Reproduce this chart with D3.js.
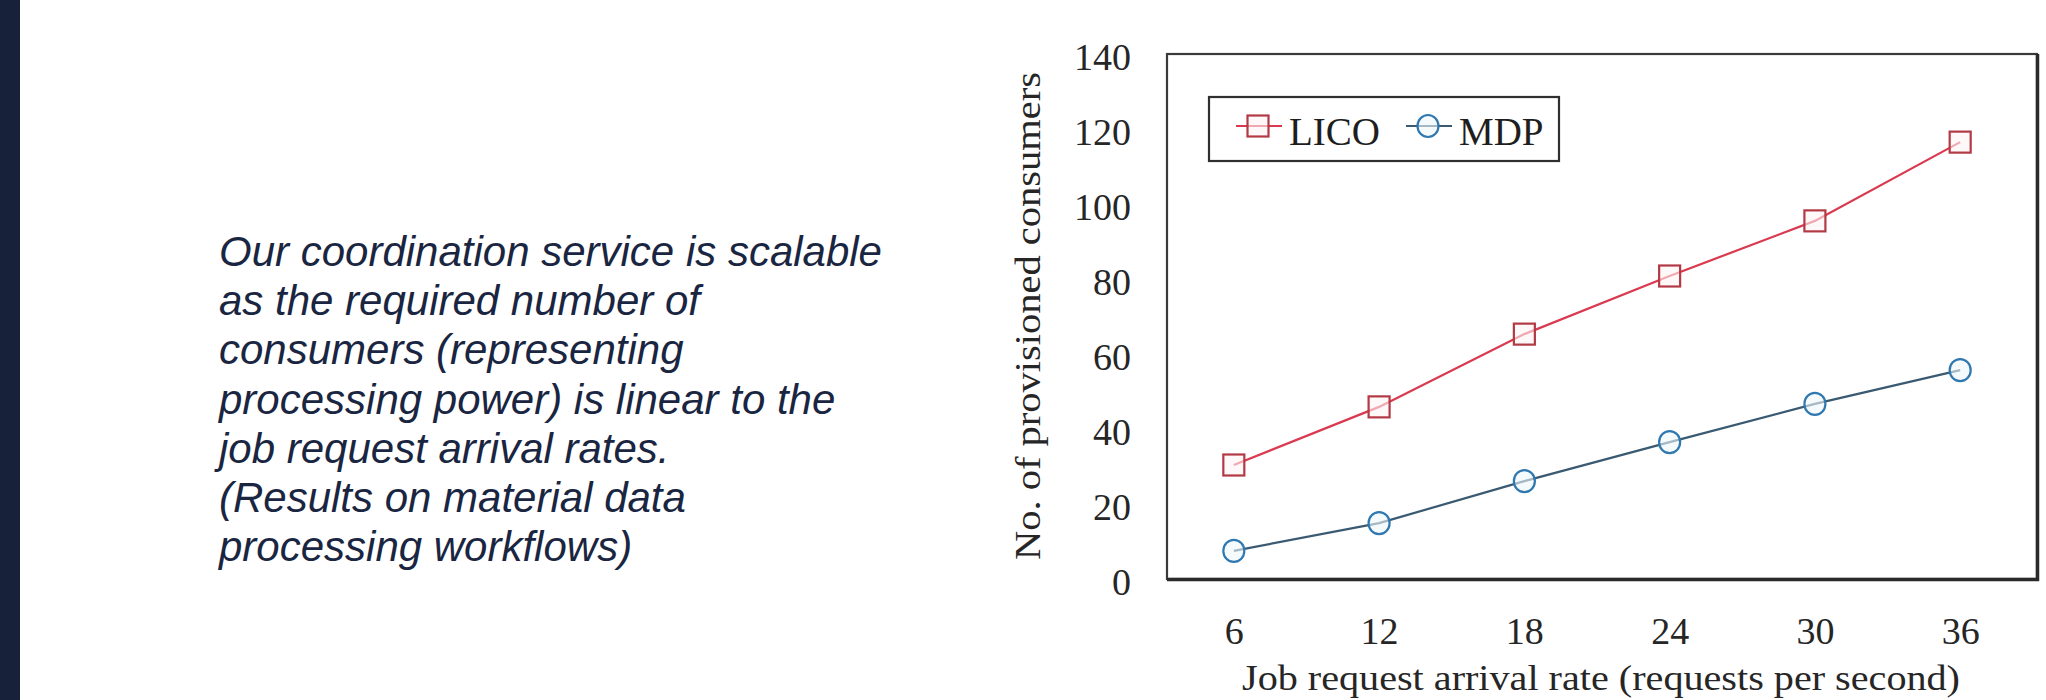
<!DOCTYPE html>
<html>
<head>
<meta charset="utf-8">
<script src="https://cdn.jsdelivr.net/npm/d3@7"></script>
<style>
  html, body { margin: 0; padding: 0; background: #ffffff; }
  svg { display: block; }
</style>
</head>
<body>
<svg id="chart" width="2046" height="700"></svg>
<script>
// ---- data ----
const categories = ["6", "12", "18", "24", "30", "36"];
const licoValues = [30.4, 45.9, 65.3, 80.8, 95.5, 116.5];
const mdpValues = [7.5, 14.9, 26.1, 36.5, 46.7, 55.7];
const yTickValues = [0, 20, 40, 60, 80, 100, 120, 140];
const seriesNames = ["LICO", "MDP"];
const xAxisTitle = "Job request arrival rate (requests per second)";
const yAxisTitle = "No. of provisioned consumers";
const noteLines = [
  "Our coordination service is scalable",
  "as the required number of",
  "consumers (representing",
  "processing power) is linear to the",
  "job request arrival rates.",
  "(Results on material data",
  "processing workflows)"
];

// ---- layout ----
const W = 2046, H = 700;
const box = { left: 1167, right: 2037, top: 54, bottom: 579 };
const serif = "'Liberation Serif', 'Times New Roman', serif";
const sans = "'Liberation Sans', Arial, sans-serif";

const svg = d3.select("#chart");
svg.append("rect").attr("x", 0).attr("y", 0).attr("width", W).attr("height", H).attr("fill", "#ffffff");

// dark side bar
svg.append("rect").attr("x", 0).attr("y", 0).attr("width", 20).attr("height", H).attr("fill", "#17223a");

// note text
const note = svg.append("text")
  .attr("font-family", sans)
  .attr("font-style", "italic")
  .attr("font-size", 42)
  .attr("fill", "#1a2641");
note.selectAll("tspan").data(noteLines).join("tspan")
  .attr("x", 219)
  .attr("y", (d, i) => 266 + i * 49.2)
  .text(d => d);

// scales
const x = d3.scalePoint().domain(categories).range([box.left, 2027]).padding(0.46);
const y = d3.scaleLinear().domain([0, 140]).range([box.bottom, box.top]);

// plot frame
svg.append("rect")
  .attr("x", box.left).attr("y", box.top)
  .attr("width", box.right - box.left).attr("height", box.bottom - box.top)
  .attr("fill", "#ffffff").attr("stroke", "#3a3a3a").attr("stroke-width", 2.2);
svg.append("path")
  .attr("d", `M${box.left},${box.bottom + 0.5}H${box.right + 0.5}V${box.top}`)
  .attr("fill", "none").attr("stroke", "#2a2a2a").attr("stroke-width", 3.5);

// axes
const yAxis = svg.append("g")
  .attr("transform", `translate(${box.left},0)`)
  .call(d3.axisLeft(y).tickValues(yTickValues).tickSize(0).tickPadding(36).tickFormat(d3.format("d")));
yAxis.select(".domain").remove();
yAxis.selectAll("text")
  .attr("font-family", serif).attr("font-size", 38).attr("fill", "#262626")
  .attr("dy", "0.41em");

const xAxis = svg.append("g")
  .attr("transform", `translate(0,${box.bottom})`)
  .call(d3.axisBottom(x).tickSize(0).tickPadding(38));
xAxis.select(".domain").remove();
xAxis.selectAll("text")
  .attr("font-family", serif).attr("font-size", 38).attr("fill", "#262626");

// axis titles
svg.append("text")
  .attr("x", 1242).attr("y", 690)
  .attr("font-family", serif).attr("font-size", 35).attr("fill", "#262626")
  .attr("textLength", 718).attr("lengthAdjust", "spacingAndGlyphs")
  .text(xAxisTitle);

svg.append("text")
  .attr("transform", "translate(1040,316) rotate(-90)")
  .attr("text-anchor", "middle")
  .attr("font-family", serif).attr("font-size", 36).attr("fill", "#262626")
  .attr("textLength", 488).attr("lengthAdjust", "spacingAndGlyphs")
  .text(yAxisTitle);

// series
const series = [
  { name: seriesNames[0], values: licoValues, line: "#da3a50", mark: "#b23a44", fill: "#fff4f5", shape: "square" },
  { name: seriesNames[1], values: mdpValues, line: "#3a5a72", mark: "#2f78b0", fill: "#eef7fc", shape: "circle" }
];

const lineGen = d3.line().x((d, i) => x(categories[i])).y(d => y(d));

function drawMarker(g, s, cx, cy) {
  if (s.shape === "square") {
    g.append("rect").attr("x", cx - 10.5).attr("y", cy - 10.5).attr("width", 21).attr("height", 21)
      .attr("fill", s.fill).attr("fill-opacity", 0.6).attr("stroke", s.mark).attr("stroke-width", 2.2);
  } else {
    g.append("ellipse").attr("cx", cx).attr("cy", cy).attr("rx", 10.5).attr("ry", 11)
      .attr("fill", s.fill).attr("fill-opacity", 0.6).attr("stroke", s.mark).attr("stroke-width", 2.2);
  }
}

series.forEach(s => {
  const g = svg.append("g");
  g.append("path").datum(s.values)
    .attr("d", lineGen).attr("fill", "none").attr("stroke", s.line).attr("stroke-width", 2.2);
  s.values.forEach((v, i) => drawMarker(g, s, x(categories[i]), y(v)));
});

// legend
const legend = svg.append("g").attr("transform", "translate(1209,97)");
legend.append("rect").attr("width", 350).attr("height", 64)
  .attr("fill", "#ffffff").attr("stroke", "#2f2f2f").attr("stroke-width", 2.2);
const legendOffsets = [27, 197];
series.forEach((s, i) => {
  const g = legend.append("g").attr("transform", `translate(${legendOffsets[i]},29)`);
  g.append("line").attr("x1", 0).attr("x2", 46).attr("y1", 0).attr("y2", 0)
    .attr("stroke", s.line).attr("stroke-width", 2.2);
  drawMarker(g, s, 22, 0);
  g.append("text").attr("x", 53).attr("y", 19)
    .attr("font-family", serif).attr("font-size", 39).attr("fill", "#1e1e1e")
    .text(s.name);
});
</script>
</body>
</html>
